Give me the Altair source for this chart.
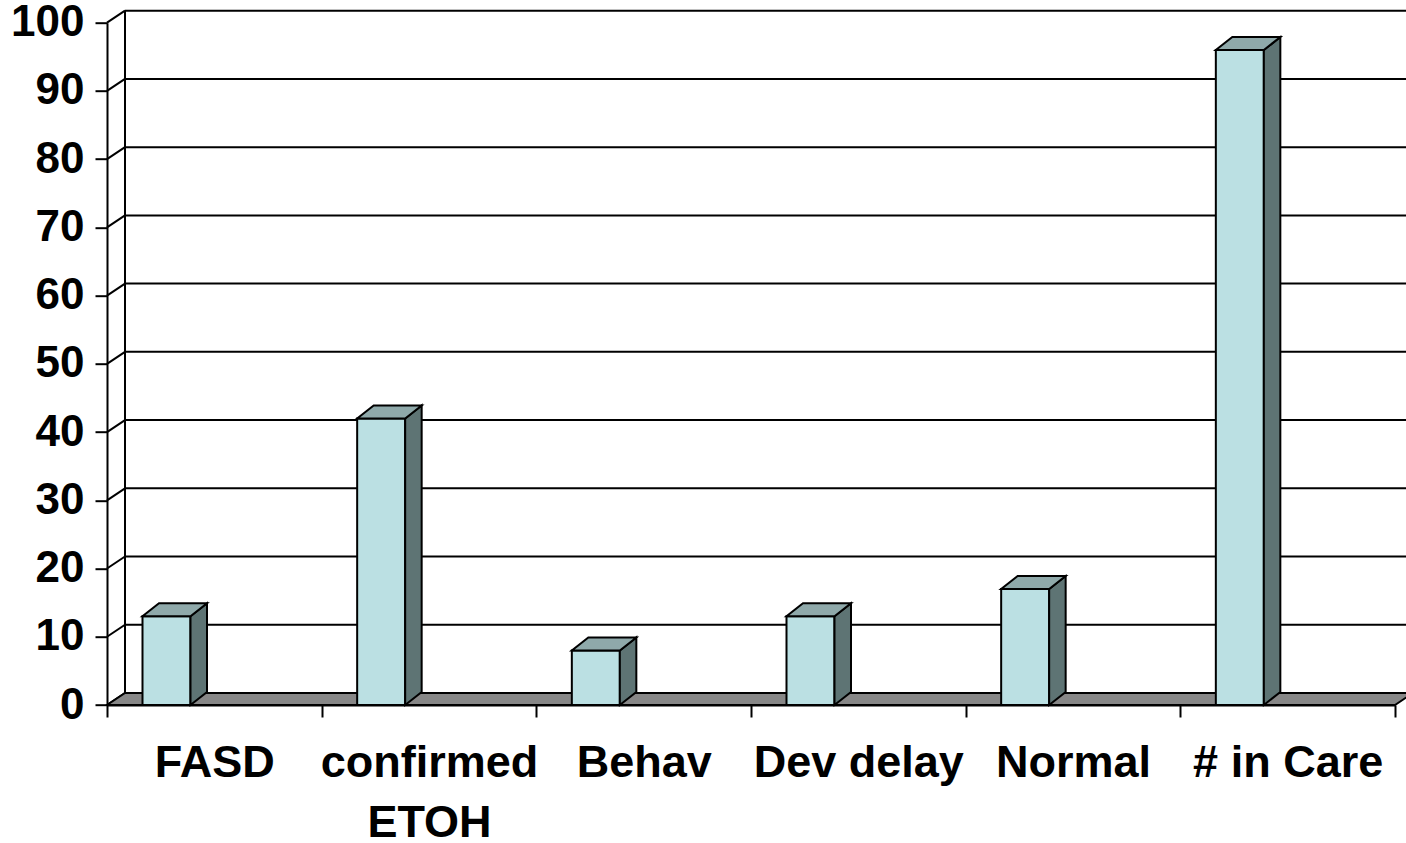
import json
import altair as alt
import pandas as pd

# Data
categories = ["FASD", "confirmed ETOH", "Behav", "Dev delay", "Normal", "# in Care"]
counts = [13, 42, 8, 13, 17, 96]
y_ticks = [0, 10, 20, 30, 40, 50, 60, 70, 80, 90, 100]

# Plot geometry (pixels) and derived offsets in data units
PLOT_W = 1288
PLOT_H = 682.3
X_MAX = len(categories)
Y_MAX = 100
PX_X = PLOT_W / X_MAX
PX_Y = PLOT_H / Y_MAX

WALL_DX = 18 / PX_X
WALL_DY = 12 / PX_Y
BAR_DX = 16.5 / PX_X
BAR_DY = 13 / PX_Y
BAR_LEFT = 35.5 / PX_X
BAR_W = 48 / PX_X

FRONT = "#BBE0E3"
TOP = "#8FA9AA"
SIDE = "#5E7474"
FLOOR = "#878787"
INK = "#000000"
FONT = "Liberation Sans"


def wrap(name, limit=10):
    if len(name) > limit and " " in name:
        cut = name.rfind(" ")
        return [name[:cut], name[cut + 1:]]
    return [name]


label_lines = json.dumps([wrap(c) for c in categories])

x_axis = alt.Axis(
    title=None,
    values=[k / 2 for k in range(2 * X_MAX + 1)],
    domainColor=INK, domainWidth=2,
    tickColor=INK, tickWidth=2, tickSize=12,
    tickOpacity={"condition": {"test": "datum.value % 1 != 0", "value": 0}, "value": 1},
    labelExpr=f"datum.value % 1 == 0 ? '' : {label_lines}[floor(datum.value)]",
    labelFont=FONT, labelFontSize=45, labelFontWeight="bold",
    labelColor=INK, labelAlign="center", labelBaseline="top",
    labelPadding=23, labelLineHeight=60, labelLimit=600,
    labelOverlap=False, labelFlush=False, grid=False,
)
y_axis = alt.Axis(
    title=None, values=y_ticks,
    domainColor=INK, domainWidth=2,
    tickColor=INK, tickWidth=2, tickSize=12,
    labelFont=FONT, labelFontSize=44, labelFontWeight="bold",
    labelColor=INK, labelPadding=11, labelLimit=300,
    labelOverlap=False, labelFlush=False, grid=False,
)


def X(field):
    return alt.X(field, type="quantitative",
                 scale=alt.Scale(domain=[0, X_MAX], nice=False, zero=False),
                 axis=x_axis)


def Y(field):
    return alt.Y(field, type="quantitative",
                 scale=alt.Scale(domain=[0, Y_MAX], nice=False, zero=False),
                 axis=y_axis)


# Back wall gridlines
grid_df = pd.DataFrame({
    "x": [WALL_DX] * len(y_ticks),
    "x2": [X_MAX + WALL_DX] * len(y_ticks),
    "y": [v + WALL_DY for v in y_ticks],
})
grid = alt.Chart(grid_df).mark_rule(color=INK, strokeWidth=2).encode(
    x=X("x"), x2="x2", y=Y("y"),
)

# Short diagonals joining the front ticks to the back wall
diag_df = pd.DataFrame({
    "x": [0.0] * len(y_ticks),
    "x2": [WALL_DX] * len(y_ticks),
    "y": [float(v) for v in y_ticks],
    "y2": [v + WALL_DY for v in y_ticks],
})
diag = alt.Chart(diag_df).mark_rule(color=INK, strokeWidth=2).encode(
    x=X("x"), x2="x2", y=Y("y"), y2="y2",
)

# Left edge of the back wall
wall_edge_df = pd.DataFrame({
    "x": [WALL_DX], "y": [WALL_DY], "y2": [Y_MAX + WALL_DY],
})
wall_edge = alt.Chart(wall_edge_df).mark_rule(color=INK, strokeWidth=2).encode(
    x=X("x"), y=Y("y"), y2="y2",
)

# Floor slab (parallelogram between front axis and back wall)
floor_df = pd.DataFrame({
    "x": [0.0, WALL_DX, X_MAX, X_MAX + WALL_DX],
    "lo": [0.0, 0.0, 0.0, WALL_DY],
    "hi": [0.0, WALL_DY, WALL_DY, WALL_DY],
})
floor = alt.Chart(floor_df).mark_area(
    color=FLOOR, stroke=INK, strokeWidth=2, opacity=1
).encode(
    x=X("x"), y=Y("lo"), y2="hi",
)

# Columns: front face, right side and top
front_rows, side_rows, top_rows = [], [], []
for i, (cat, v) in enumerate(zip(categories, counts)):
    left = i + BAR_LEFT
    right = left + BAR_W
    front_rows.append({"cat": cat, "x": left, "x2": right, "y": 0.0, "y2": float(v)})
    side_rows += [
        {"cat": cat, "x": right, "lo": 0.0, "hi": float(v)},
        {"cat": cat, "x": right + BAR_DX, "lo": BAR_DY, "hi": v + BAR_DY},
    ]
    top_rows += [
        {"cat": cat, "x": left, "lo": float(v), "hi": float(v)},
        {"cat": cat, "x": left + BAR_DX, "lo": float(v), "hi": v + BAR_DY},
        {"cat": cat, "x": right, "lo": float(v), "hi": v + BAR_DY},
        {"cat": cat, "x": right + BAR_DX, "lo": v + BAR_DY, "hi": v + BAR_DY},
    ]

front = alt.Chart(pd.DataFrame(front_rows)).mark_rect(
    color=FRONT, stroke=INK, strokeWidth=2
).encode(
    x=X("x"), x2="x2", y=Y("y"), y2="y2",
)

side = alt.Chart(pd.DataFrame(side_rows)).mark_area(
    color=SIDE, stroke=INK, strokeWidth=2, opacity=1
).encode(
    x=X("x"), y=Y("lo"), y2="hi", detail="cat:N",
)

top = alt.Chart(pd.DataFrame(top_rows)).mark_area(
    color=TOP, stroke=INK, strokeWidth=2, opacity=1
).encode(
    x=X("x"), y=Y("lo"), y2="hi", detail="cat:N",
)

chart = alt.layer(grid, wall_edge, diag, floor, front, side, top).properties(
    width=PLOT_W,
    height=PLOT_H,
    background="white",
    padding={"left": 107, "top": 22.7, "right": 11, "bottom": 138},
    autosize=alt.AutoSizeParams(type="none"),
).configure_view(strokeWidth=0)

chart.save("out.html", embed_options={"renderer": "svg", "actions": False})
